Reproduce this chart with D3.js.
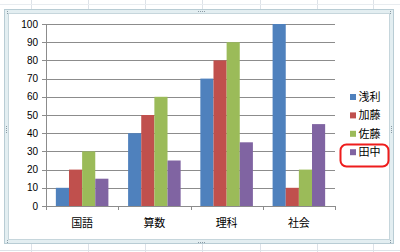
<!DOCTYPE html>
<html lang="ja">
<head>
  <meta charset="UTF-8">
  <title>Chart</title>
  <script src="https://d3js.org/d3.v7.min.js"></script>
  <style>
    body { margin: 0; background: #fff; }
    svg text { font-family: "Liberation Sans", "Noto Sans CJK JP", sans-serif; fill: #000; }
  </style>
</head>
<body>
  <div id="chart"></div>
  <script>
    // chart data
    const categories = ['国語', '算数', '理科', '社会'];
    const seriesNames = ['浅利', '加藤', '佐藤', '田中'];
    const asari = [10, 40, 70, 100];
    const kato = [20, 50, 80, 10];
    const sato = [30, 60, 90, 20];
    const tanaka = [15, 25, 35, 45];
    const yTicks = [0, 10, 20, 30, 40, 50, 60, 70, 80, 90, 100];

    const seriesValues = [asari, kato, sato, tanaka];
    const colors = ['#4F81BD', '#C0504D', '#9BBB59', '#8064A2'];

    const W = 400, H = 252;
    const svg = d3.select('#chart').append('svg')
      .attr('width', W).attr('height', H);

    // spreadsheet cells behind the chart
    const cellX = [31, 88, 145, 202, 260, 317, 373];
    svg.selectAll('line.cellv').data(cellX).enter().append('line')
      .attr('x1', d => d + 0.5).attr('x2', d => d + 0.5)
      .attr('y1', 0).attr('y2', H)
      .attr('stroke', '#dde2e8');
    svg.append('line').attr('x1', 0).attr('x2', W).attr('y1', 250.5).attr('y2', 250.5)
      .attr('stroke', '#dde2e8');
    svg.append('line').attr('x1', 0).attr('x2', W).attr('y1', 4.5).attr('y2', 4.5)
      .attr('stroke', '#e8ecf0');

    // selected chart frame
    svg.append('rect').attr('x', 4.5).attr('y', 9.5).attr('width', 389).attr('height', 234)
      .attr('fill', '#e3eef1').attr('stroke', '#b8ccd4');
    svg.append('rect').attr('x', 8.5).attr('y', 13.5).attr('width', 381).attr('height', 226)
      .attr('fill', '#fff').attr('stroke', '#c6d6dc');

    // little grip dots
    const grips = [[7, 12], [390, 12], [7, 241], [390, 241], [198, 11], [198, 242], [6, 126], [391, 126]];
    grips.forEach(([gx, gy], i) => {
      const horiz = i === 4 || i === 5;
      const vert = i === 6 || i === 7;
      const n = (horiz || vert) ? 4 : 2;
      for (let k = 0; k < n; k++) {
        svg.append('rect')
          .attr('x', horiz ? gx + k * 2 : gx)
          .attr('y', vert ? gy + k * 2 : (horiz ? gy : gy + k * 2 - 1))
          .attr('width', 1).attr('height', 1)
          .attr('fill', '#8a9aa4');
      }
    });

    const margin = { left: 46, right: 335, top: 24, bottom: 206 };

    const y = d3.scaleLinear().domain([0, 100]).range([margin.bottom, margin.top]);
    const x0 = d3.scaleBand().domain(categories).range([margin.left, margin.right])
      .paddingInner(0).paddingOuter(0);
    // gap width 150%: bars take 4/(4+1.5) of each band
    const inner = d3.scaleBand().domain(seriesNames)
      .range([0, x0.bandwidth()]).paddingInner(0).paddingOuter(1.5 / 2);

    // gridlines
    svg.append('g').selectAll('line').data(yTicks).enter().append('line')
      .attr('x1', margin.left - 4).attr('x2', margin.right)
      .attr('y1', d => Math.round(y(d)) + 0.5).attr('y2', d => Math.round(y(d)) + 0.5)
      .attr('stroke', '#8c8c8c');

    // y axis labels
    svg.append('g').selectAll('text').data(yTicks).enter().append('text')
      .attr('x', 38).attr('y', d => y(d) + 3.5)
      .attr('text-anchor', 'end').attr('font-size', 10)
      .text(d => d);

    // bars
    const rows = categories.map((c, i) => ({ cat: c, vals: seriesValues.map(s => s[i]) }));
    const groups = svg.append('g').selectAll('g').data(rows).enter().append('g')
      .attr('transform', d => `translate(${x0(d.cat)},0)`);
    groups.selectAll('rect').data(d => d.vals.map((v, j) => ({ name: seriesNames[j], v, j })))
      .enter().append('rect')
      .attr('x', d => inner(d.name))
      .attr('width', inner.bandwidth())
      .attr('y', d => y(d.v))
      .attr('height', d => y(0) - y(d.v))
      .attr('fill', d => colors[d.j]);

    // axes lines
    svg.append('line').attr('x1', margin.left + 0.5).attr('x2', margin.left + 0.5)
      .attr('y1', margin.top).attr('y2', margin.bottom + 0.5).attr('stroke', '#8c8c8c');
    svg.append('line').attr('x1', margin.left).attr('x2', margin.right)
      .attr('y1', Math.round(y(0)) + 0.5).attr('y2', Math.round(y(0)) + 0.5).attr('stroke', '#8c8c8c');
    const tickX = categories.map(c => x0(c)).concat([margin.right]);
    svg.append('g').selectAll('line').data(tickX).enter().append('line')
      .attr('x1', d => Math.round(d) + 0.5).attr('x2', d => Math.round(d) + 0.5)
      .attr('y1', Math.round(y(0))).attr('y2', Math.round(y(0)) + 4)
      .attr('stroke', '#8c8c8c');

    // category labels
    svg.append('g').selectAll('text').data(categories).enter().append('text')
      .attr('x', d => x0(d) + x0.bandwidth() / 2).attr('y', 226.5)
      .attr('text-anchor', 'middle').attr('font-size', 11)
      .text(d => d);

    // legend
    const legend = svg.append('g').selectAll('g').data(seriesNames).enter().append('g')
      .attr('transform', (d, i) => `translate(350,${97 + i * 18.4})`);
    legend.append('rect').attr('x', 0).attr('y', -3).attr('width', 6).attr('height', 6)
      .attr('fill', (d, i) => colors[i]);
    legend.append('text').attr('x', 8.5).attr('y', 4).attr('font-size', 11).text(d => d);

    // red highlight round the last legend entry
    svg.append('rect').attr('x', 340.5).attr('y', 144.5).attr('width', 48).attr('height', 22)
      .attr('rx', 6).attr('ry', 6)
      .attr('fill', 'none').attr('stroke', '#ee1c1c').attr('stroke-width', 2);
  </script>
</body>
</html>
